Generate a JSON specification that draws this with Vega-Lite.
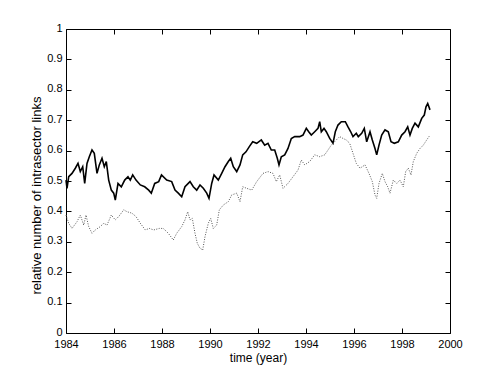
{
  "$schema": "https://vega.github.io/schema/vega-lite/v6.json",
  "width": 384,
  "height": 304,
  "padding": {"left": 66, "top": 29, "right": 48, "bottom": 42},
  "autosize": {"type": "none"},
  "background": "white",
  "config": {
    "view": {"stroke": "black", "strokeWidth": 1},
    "font": "Liberation Sans",
    "axis": {
      "grid": false,
      "domain": false,
      "labelFlush": false,
      "labelOverlap": false,
      "tickColor": "black",
      "tickSize": -5,
      "tickWidth": 1,
      "labelColor": "black",
      "labelFont": "Liberation Sans",
      "labelFontSize": 11,
      "titleFont": "Liberation Sans",
      "titleFontSize": 12,
      "titleFontWeight": "normal",
      "titleColor": "black"
    }
  },
  "data": {
    "values": [
      {"year": 1984.0, "value": 0.503, "series": "solid"},
      {"year": 1984.042, "value": 0.476, "series": "solid"},
      {"year": 1984.113, "value": 0.514, "series": "solid"},
      {"year": 1984.25, "value": 0.525, "series": "solid"},
      {"year": 1984.388, "value": 0.542, "series": "solid"},
      {"year": 1984.5, "value": 0.558, "series": "solid"},
      {"year": 1984.596, "value": 0.531, "series": "solid"},
      {"year": 1984.696, "value": 0.547, "series": "solid"},
      {"year": 1984.779, "value": 0.492, "series": "solid"},
      {"year": 1984.875, "value": 0.558, "series": "solid"},
      {"year": 1984.971, "value": 0.58, "series": "solid"},
      {"year": 1985.083, "value": 0.602, "series": "solid"},
      {"year": 1985.179, "value": 0.591, "series": "solid"},
      {"year": 1985.292, "value": 0.525, "series": "solid"},
      {"year": 1985.388, "value": 0.553, "series": "solid"},
      {"year": 1985.5, "value": 0.575, "series": "solid"},
      {"year": 1985.596, "value": 0.547, "series": "solid"},
      {"year": 1985.679, "value": 0.564, "series": "solid"},
      {"year": 1985.779, "value": 0.503, "series": "solid"},
      {"year": 1985.888, "value": 0.47, "series": "solid"},
      {"year": 1985.988, "value": 0.46, "series": "solid"},
      {"year": 1986.054, "value": 0.4375, "series": "solid"},
      {"year": 1986.167, "value": 0.492, "series": "solid"},
      {"year": 1986.304, "value": 0.481, "series": "solid"},
      {"year": 1986.446, "value": 0.503, "series": "solid"},
      {"year": 1986.583, "value": 0.514, "series": "solid"},
      {"year": 1986.679, "value": 0.503, "series": "solid"},
      {"year": 1986.779, "value": 0.52, "series": "solid"},
      {"year": 1986.917, "value": 0.503, "series": "solid"},
      {"year": 1987.096, "value": 0.487, "series": "solid"},
      {"year": 1987.279, "value": 0.481, "series": "solid"},
      {"year": 1987.446, "value": 0.47, "series": "solid"},
      {"year": 1987.554, "value": 0.46, "series": "solid"},
      {"year": 1987.696, "value": 0.492, "series": "solid"},
      {"year": 1987.863, "value": 0.498, "series": "solid"},
      {"year": 1987.979, "value": 0.52, "series": "solid"},
      {"year": 1988.196, "value": 0.503, "series": "solid"},
      {"year": 1988.404, "value": 0.498, "series": "solid"},
      {"year": 1988.542, "value": 0.47, "series": "solid"},
      {"year": 1988.679, "value": 0.46, "series": "solid"},
      {"year": 1988.821, "value": 0.448, "series": "solid"},
      {"year": 1988.958, "value": 0.481, "series": "solid"},
      {"year": 1989.167, "value": 0.498, "series": "solid"},
      {"year": 1989.304, "value": 0.481, "series": "solid"},
      {"year": 1989.446, "value": 0.47, "series": "solid"},
      {"year": 1989.583, "value": 0.487, "series": "solid"},
      {"year": 1989.721, "value": 0.476, "series": "solid"},
      {"year": 1989.863, "value": 0.46, "series": "solid"},
      {"year": 1989.958, "value": 0.443, "series": "solid"},
      {"year": 1990.071, "value": 0.492, "series": "solid"},
      {"year": 1990.167, "value": 0.52, "series": "solid"},
      {"year": 1990.346, "value": 0.503, "series": "solid"},
      {"year": 1990.488, "value": 0.525, "series": "solid"},
      {"year": 1990.625, "value": 0.547, "series": "solid"},
      {"year": 1990.763, "value": 0.564, "series": "solid"},
      {"year": 1990.863, "value": 0.575, "series": "solid"},
      {"year": 1990.971, "value": 0.547, "series": "solid"},
      {"year": 1991.113, "value": 0.531, "series": "solid"},
      {"year": 1991.25, "value": 0.553, "series": "solid"},
      {"year": 1991.363, "value": 0.586, "series": "solid"},
      {"year": 1991.5, "value": 0.596, "series": "solid"},
      {"year": 1991.638, "value": 0.613, "series": "solid"},
      {"year": 1991.779, "value": 0.629, "series": "solid"},
      {"year": 1991.946, "value": 0.624, "series": "solid"},
      {"year": 1992.138, "value": 0.635, "series": "solid"},
      {"year": 1992.279, "value": 0.618, "series": "solid"},
      {"year": 1992.417, "value": 0.624, "series": "solid"},
      {"year": 1992.554, "value": 0.602, "series": "solid"},
      {"year": 1992.696, "value": 0.602, "series": "solid"},
      {"year": 1992.804, "value": 0.575, "series": "solid"},
      {"year": 1992.875, "value": 0.553, "series": "solid"},
      {"year": 1992.971, "value": 0.58, "series": "solid"},
      {"year": 1993.113, "value": 0.586, "series": "solid"},
      {"year": 1993.25, "value": 0.607, "series": "solid"},
      {"year": 1993.388, "value": 0.64, "series": "solid"},
      {"year": 1993.529, "value": 0.646, "series": "solid"},
      {"year": 1993.738, "value": 0.646, "series": "solid"},
      {"year": 1993.875, "value": 0.651, "series": "solid"},
      {"year": 1994.013, "value": 0.673, "series": "solid"},
      {"year": 1994.113, "value": 0.662, "series": "solid"},
      {"year": 1994.221, "value": 0.651, "series": "solid"},
      {"year": 1994.363, "value": 0.662, "series": "solid"},
      {"year": 1994.5, "value": 0.673, "series": "solid"},
      {"year": 1994.571, "value": 0.695, "series": "solid"},
      {"year": 1994.638, "value": 0.662, "series": "solid"},
      {"year": 1994.75, "value": 0.673, "series": "solid"},
      {"year": 1994.846, "value": 0.662, "series": "solid"},
      {"year": 1994.988, "value": 0.64, "series": "solid"},
      {"year": 1995.125, "value": 0.624, "series": "solid"},
      {"year": 1995.221, "value": 0.662, "series": "solid"},
      {"year": 1995.333, "value": 0.684, "series": "solid"},
      {"year": 1995.471, "value": 0.695, "series": "solid"},
      {"year": 1995.638, "value": 0.695, "series": "solid"},
      {"year": 1995.75, "value": 0.678, "series": "solid"},
      {"year": 1995.863, "value": 0.662, "series": "solid"},
      {"year": 1995.958, "value": 0.646, "series": "solid"},
      {"year": 1996.096, "value": 0.657, "series": "solid"},
      {"year": 1996.179, "value": 0.646, "series": "solid"},
      {"year": 1996.321, "value": 0.657, "series": "solid"},
      {"year": 1996.429, "value": 0.673, "series": "solid"},
      {"year": 1996.529, "value": 0.629, "series": "solid"},
      {"year": 1996.667, "value": 0.662, "series": "solid"},
      {"year": 1996.763, "value": 0.635, "series": "solid"},
      {"year": 1996.875, "value": 0.607, "series": "solid"},
      {"year": 1996.946, "value": 0.586, "series": "solid"},
      {"year": 1997.042, "value": 0.618, "series": "solid"},
      {"year": 1997.154, "value": 0.651, "series": "solid"},
      {"year": 1997.292, "value": 0.668, "series": "solid"},
      {"year": 1997.429, "value": 0.662, "series": "solid"},
      {"year": 1997.542, "value": 0.629, "series": "solid"},
      {"year": 1997.679, "value": 0.624, "series": "solid"},
      {"year": 1997.846, "value": 0.629, "series": "solid"},
      {"year": 1997.988, "value": 0.651, "series": "solid"},
      {"year": 1998.125, "value": 0.662, "series": "solid"},
      {"year": 1998.238, "value": 0.678, "series": "solid"},
      {"year": 1998.333, "value": 0.651, "series": "solid"},
      {"year": 1998.429, "value": 0.673, "series": "solid"},
      {"year": 1998.542, "value": 0.69, "series": "solid"},
      {"year": 1998.679, "value": 0.678, "series": "solid"},
      {"year": 1998.821, "value": 0.706, "series": "solid"},
      {"year": 1998.929, "value": 0.717, "series": "solid"},
      {"year": 1999.0, "value": 0.744, "series": "solid"},
      {"year": 1999.071, "value": 0.755, "series": "solid"},
      {"year": 1999.167, "value": 0.734, "series": "solid"},
      {"year": 1984.0, "value": 0.388, "series": "dotted"},
      {"year": 1984.113, "value": 0.361, "series": "dotted"},
      {"year": 1984.25, "value": 0.344, "series": "dotted"},
      {"year": 1984.458, "value": 0.366, "series": "dotted"},
      {"year": 1984.596, "value": 0.388, "series": "dotted"},
      {"year": 1984.738, "value": 0.355, "series": "dotted"},
      {"year": 1984.833, "value": 0.388, "series": "dotted"},
      {"year": 1984.946, "value": 0.35, "series": "dotted"},
      {"year": 1985.083, "value": 0.328, "series": "dotted"},
      {"year": 1985.221, "value": 0.339, "series": "dotted"},
      {"year": 1985.429, "value": 0.35, "series": "dotted"},
      {"year": 1985.571, "value": 0.361, "series": "dotted"},
      {"year": 1985.708, "value": 0.355, "series": "dotted"},
      {"year": 1985.888, "value": 0.388, "series": "dotted"},
      {"year": 1986.054, "value": 0.372, "series": "dotted"},
      {"year": 1986.196, "value": 0.383, "series": "dotted"},
      {"year": 1986.404, "value": 0.405, "series": "dotted"},
      {"year": 1986.542, "value": 0.399, "series": "dotted"},
      {"year": 1986.75, "value": 0.394, "series": "dotted"},
      {"year": 1986.917, "value": 0.383, "series": "dotted"},
      {"year": 1987.096, "value": 0.361, "series": "dotted"},
      {"year": 1987.304, "value": 0.339, "series": "dotted"},
      {"year": 1987.471, "value": 0.344, "series": "dotted"},
      {"year": 1987.654, "value": 0.339, "series": "dotted"},
      {"year": 1987.888, "value": 0.344, "series": "dotted"},
      {"year": 1988.054, "value": 0.344, "series": "dotted"},
      {"year": 1988.263, "value": 0.328, "series": "dotted"},
      {"year": 1988.471, "value": 0.306, "series": "dotted"},
      {"year": 1988.613, "value": 0.328, "series": "dotted"},
      {"year": 1988.821, "value": 0.35, "series": "dotted"},
      {"year": 1988.958, "value": 0.372, "series": "dotted"},
      {"year": 1989.071, "value": 0.399, "series": "dotted"},
      {"year": 1989.167, "value": 0.372, "series": "dotted"},
      {"year": 1989.263, "value": 0.377, "series": "dotted"},
      {"year": 1989.375, "value": 0.328, "series": "dotted"},
      {"year": 1989.471, "value": 0.295, "series": "dotted"},
      {"year": 1989.583, "value": 0.279, "series": "dotted"},
      {"year": 1989.696, "value": 0.273, "series": "dotted"},
      {"year": 1989.792, "value": 0.317, "series": "dotted"},
      {"year": 1989.929, "value": 0.361, "series": "dotted"},
      {"year": 1990.029, "value": 0.377, "series": "dotted"},
      {"year": 1990.138, "value": 0.344, "series": "dotted"},
      {"year": 1990.279, "value": 0.355, "series": "dotted"},
      {"year": 1990.388, "value": 0.405, "series": "dotted"},
      {"year": 1990.554, "value": 0.421, "series": "dotted"},
      {"year": 1990.763, "value": 0.432, "series": "dotted"},
      {"year": 1990.904, "value": 0.454, "series": "dotted"},
      {"year": 1991.113, "value": 0.46, "series": "dotted"},
      {"year": 1991.25, "value": 0.432, "series": "dotted"},
      {"year": 1991.363, "value": 0.481, "series": "dotted"},
      {"year": 1991.529, "value": 0.476, "series": "dotted"},
      {"year": 1991.738, "value": 0.47, "series": "dotted"},
      {"year": 1991.946, "value": 0.498, "series": "dotted"},
      {"year": 1992.208, "value": 0.525, "series": "dotted"},
      {"year": 1992.417, "value": 0.531, "series": "dotted"},
      {"year": 1992.625, "value": 0.525, "series": "dotted"},
      {"year": 1992.763, "value": 0.498, "series": "dotted"},
      {"year": 1992.904, "value": 0.52, "series": "dotted"},
      {"year": 1993.042, "value": 0.476, "series": "dotted"},
      {"year": 1993.25, "value": 0.492, "series": "dotted"},
      {"year": 1993.458, "value": 0.514, "series": "dotted"},
      {"year": 1993.667, "value": 0.536, "series": "dotted"},
      {"year": 1993.804, "value": 0.569, "series": "dotted"},
      {"year": 1993.946, "value": 0.553, "series": "dotted"},
      {"year": 1994.154, "value": 0.564, "series": "dotted"},
      {"year": 1994.363, "value": 0.586, "series": "dotted"},
      {"year": 1994.571, "value": 0.58, "series": "dotted"},
      {"year": 1994.779, "value": 0.586, "series": "dotted"},
      {"year": 1994.917, "value": 0.602, "series": "dotted"},
      {"year": 1995.054, "value": 0.618, "series": "dotted"},
      {"year": 1995.263, "value": 0.635, "series": "dotted"},
      {"year": 1995.404, "value": 0.646, "series": "dotted"},
      {"year": 1995.542, "value": 0.64, "series": "dotted"},
      {"year": 1995.679, "value": 0.635, "series": "dotted"},
      {"year": 1995.821, "value": 0.624, "series": "dotted"},
      {"year": 1995.958, "value": 0.591, "series": "dotted"},
      {"year": 1996.096, "value": 0.558, "series": "dotted"},
      {"year": 1996.25, "value": 0.542, "series": "dotted"},
      {"year": 1996.458, "value": 0.553, "series": "dotted"},
      {"year": 1996.625, "value": 0.525, "series": "dotted"},
      {"year": 1996.763, "value": 0.498, "series": "dotted"},
      {"year": 1996.875, "value": 0.454, "series": "dotted"},
      {"year": 1996.946, "value": 0.443, "series": "dotted"},
      {"year": 1997.042, "value": 0.492, "series": "dotted"},
      {"year": 1997.179, "value": 0.525, "series": "dotted"},
      {"year": 1997.292, "value": 0.498, "series": "dotted"},
      {"year": 1997.404, "value": 0.481, "series": "dotted"},
      {"year": 1997.5, "value": 0.46, "series": "dotted"},
      {"year": 1997.638, "value": 0.503, "series": "dotted"},
      {"year": 1997.779, "value": 0.492, "series": "dotted"},
      {"year": 1997.917, "value": 0.503, "series": "dotted"},
      {"year": 1998.054, "value": 0.481, "series": "dotted"},
      {"year": 1998.154, "value": 0.531, "series": "dotted"},
      {"year": 1998.263, "value": 0.542, "series": "dotted"},
      {"year": 1998.375, "value": 0.52, "series": "dotted"},
      {"year": 1998.471, "value": 0.564, "series": "dotted"},
      {"year": 1998.613, "value": 0.591, "series": "dotted"},
      {"year": 1998.75, "value": 0.607, "series": "dotted"},
      {"year": 1998.888, "value": 0.618, "series": "dotted"},
      {"year": 1999.029, "value": 0.635, "series": "dotted"},
      {"year": 1999.167, "value": 0.651, "series": "dotted"}
    ]
  },
  "layer": [
    {
      "mark": {"type": "line", "strokeWidth": 1.6, "color": "black"},
      "transform": [{"filter": "datum.series === 'solid'"}],
      "encoding": {
        "x": {"field": "year", "type": "quantitative",
              "scale": {"domain": [1984, 2000], "nice": false, "zero": false},
              "axis": {"title": "time (year)", "values": [1984,1986,1988,1990,1992,1994,1996,1998,2000], "format": "d", "labelPadding": 10, "titlePadding": 3}},
        "y": {"field": "value", "type": "quantitative",
              "scale": {"domain": [0, 1], "nice": false},
              "axis": {"title": "relative number of intrasector links", "values": [0,0.1,0.2,0.3,0.4,0.5,0.6,0.7,0.8,0.9,1], "format": "~g", "labelPadding": 9, "labelOffset": -1,
                       "titleFontSize": 13, "titleX": -26, "titleY": 166, "titleAngle": -90, "titleAlign": "center", "titleBaseline": "alphabetic"}}
      }
    },
    {
      "mark": {"type": "line", "strokeWidth": 1, "color": "#555555", "strokeDash": [1, 1.5]},
      "transform": [{"filter": "datum.series === 'dotted'"}],
      "encoding": {
        "x": {"field": "year", "type": "quantitative",
              "axis": {"orient": "top", "labels": false, "title": null, "values": [1984,1986,1988,1990,1992,1994,1996,1998,2000]}},
        "y": {"field": "value", "type": "quantitative",
              "axis": {"orient": "right", "labels": false, "title": null, "values": [0,0.1,0.2,0.3,0.4,0.5,0.6,0.7,0.8,0.9,1]}}
      }
    }
  ],
  "resolve": {"axis": {"x": "independent", "y": "independent"}}
}
